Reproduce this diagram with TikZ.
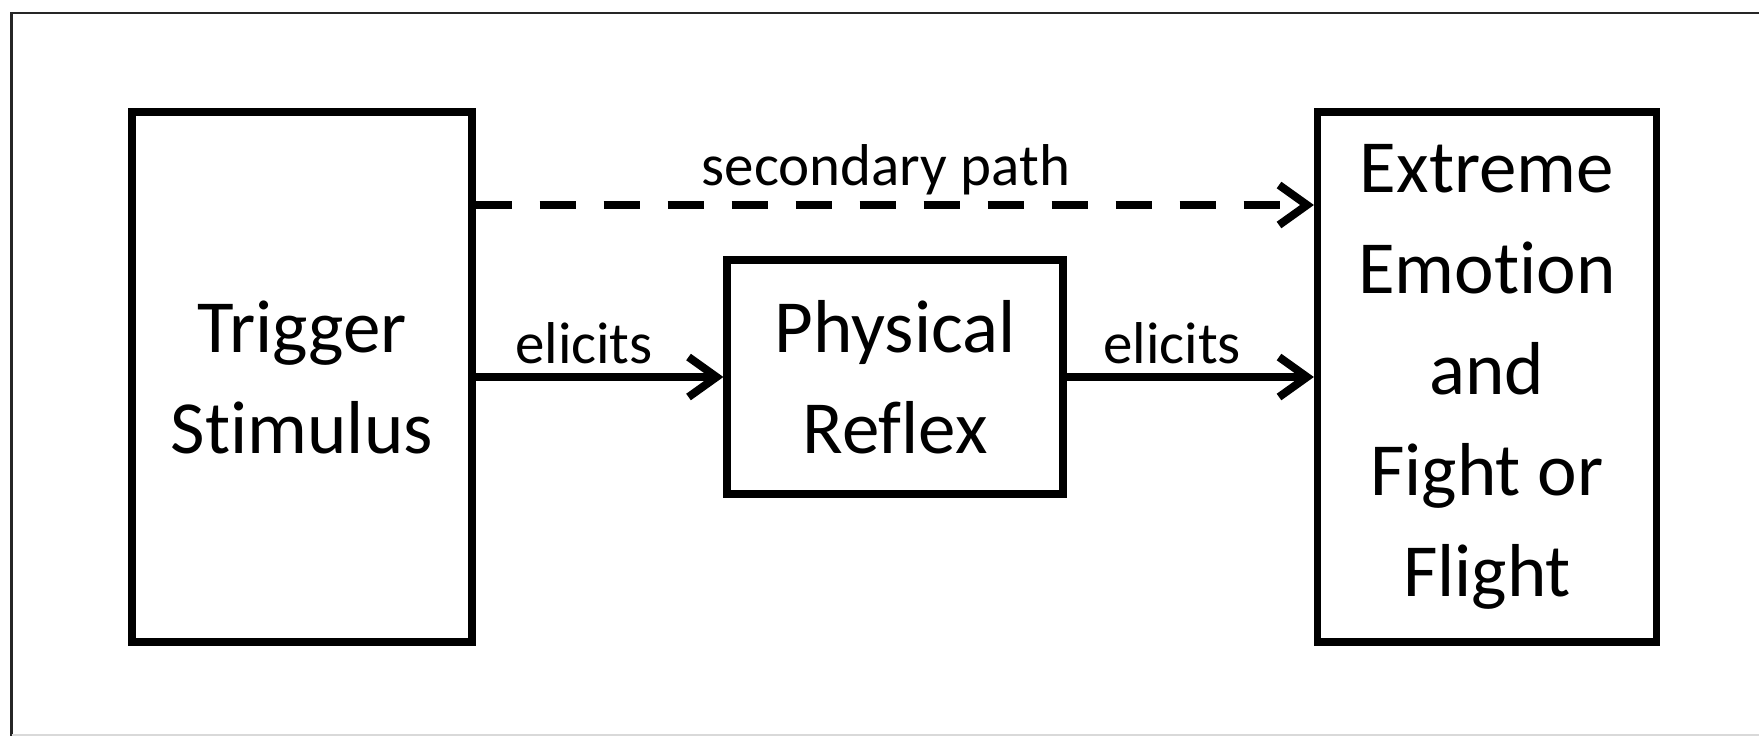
\documentclass[tikz,border=0pt]{standalone}
\usepackage{fontspec}
\setmainfont{Carlito}[Ligatures={NoCommon}]
\usetikzlibrary{arrows.meta}
\begin{document}
\begin{tikzpicture}[x=0.5pt,y=-0.5pt,
  box/.style={draw, line width=3.6pt, align=center, inner sep=0pt,
    font=\fontsize{37.5}{50.5}\selectfont},
  lbl/.style={font=\fontsize{29.5}{35}\selectfont, anchor=base, inner sep=0pt},
  arr/.style={line width=4pt, -{Straight Barb[length=14pt,width=20pt]}},
  frame/.style={line width=1.3pt, black!85}]
\useasboundingbox (0,0) rectangle (1759,736);
\fill[white] (0,0) rectangle (1759,736);
\draw[frame] (11.5,736) -- (11.5,13) -- (1759,13);
\draw[line width=0.6pt, black!15] (11.5,735) -- (1759,735);
\node[box, minimum width=170pt, minimum height=265pt] (trig) at (302,377) {Trigger\\Stimulus};
\node[box, minimum width=168pt, minimum height=117pt] (refl) at (895,377) {Physical\\Reflex};
\node[box, minimum width=169.5pt, minimum height=265pt] (emo) at (1487,377) {Extreme\\Emotion\\and\\Fight or\\Flight};
\draw[arr] (trig.east) -- (refl.west);
\draw[arr] (refl.east) -- (emo.west);
\draw[arr, dash pattern=on 18pt off 14pt] ([yshift=86pt]trig.east) -- ([yshift=86pt]emo.west);
\node[lbl] (e1) at (584,363) {elicits};
\node[lbl] (e2) at (1172,363) {elicits};
\node[lbl] (sec) at (886,185) {secondary path};
\end{tikzpicture}
\end{document}
